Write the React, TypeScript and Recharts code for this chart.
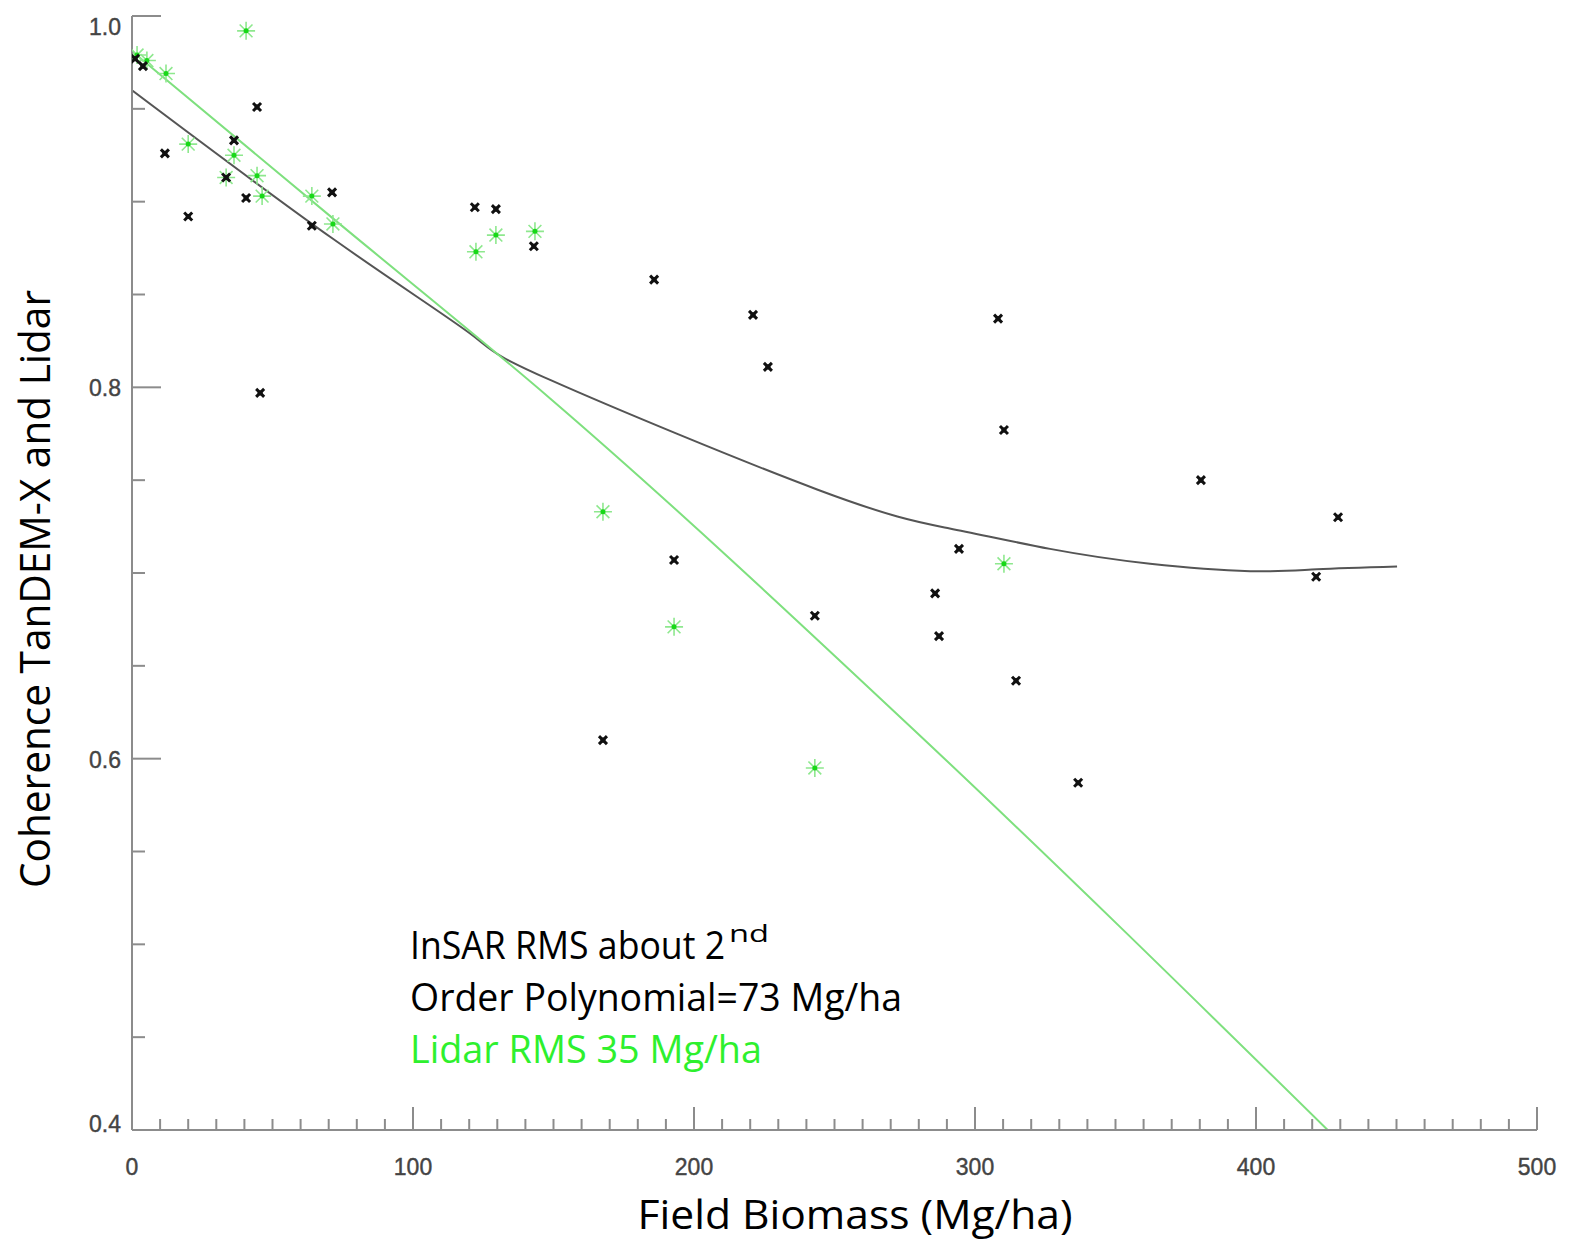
import React from "react";
import { ComposedChart, Line, Scatter, XAxis, YAxis } from "recharts";

// InSAR coherence (black crosses)
const insarBiomass = [1.1, 3.9, 11.7, 20.0, 33.5, 36.3, 40.6, 44.5, 45.6, 64.0, 71.2, 122.0, 129.5, 143.0, 167.6, 185.8, 192.9, 221.0, 226.3, 243.0, 285.8, 287.2, 294.3, 308.2, 310.3, 314.6, 336.7, 380.4, 421.4, 429.2];
const insarCoherence = [0.977, 0.973, 0.926, 0.892, 0.913, 0.933, 0.902, 0.951, 0.797, 0.887, 0.905, 0.897, 0.896, 0.876, 0.61, 0.858, 0.707, 0.839, 0.811, 0.677, 0.689, 0.666, 0.713, 0.837, 0.777, 0.642, 0.587, 0.75, 0.698, 0.73];

// Lidar (green asterisks)
const lidarBiomass = [1.8, 5.3, 12.1, 20.0, 33.5, 36.3, 40.6, 44.5, 46.3, 64.0, 71.5, 122.4, 129.5, 143.4, 167.6, 192.9, 243.0, 310.3];
const lidarValue = [0.979, 0.976, 0.969, 0.931, 0.913, 0.925, 0.992, 0.914, 0.903, 0.903, 0.888, 0.873, 0.882, 0.884, 0.733, 0.671, 0.595, 0.705];

// fitted curves
const insarFitX = [0, 71.5, 120.3, 148.8, 243.8, 291, 326.7, 362.3, 397.9, 421.7, 450.2];
const insarFitY = [0.96, 0.88, 0.829, 0.804, 0.745, 0.724, 0.713, 0.705, 0.701, 0.702, 0.7035];
const lidarFitX = [0, 71.5, 148.8, 277.9, 425.5];
const lidarFitY = [0.981, 0.891, 0.794, 0.616, 0.4];

const xTicks = [0, 10, 20, 30, 40, 50, 60, 70, 80, 90, 100, 110, 120, 130, 140, 150, 160, 170, 180, 190, 200, 210, 220, 230, 240, 250, 260, 270, 280, 290, 300, 310, 320, 330, 340, 350, 360, 370, 380, 390, 400, 410, 420, 430, 440, 450, 460, 470, 480, 490, 500];
const xLabels = [0, 100, 200, 300, 400, 500];
const yTicks = [0.4, 0.45, 0.5, 0.55, 0.6, 0.65, 0.7, 0.75, 0.8, 0.85, 0.9, 0.95, 1.0];
const yLabels = [0.4, 0.6, 0.8, 1.0];

const zip = (xs: number[], ys: number[]) => xs.map((x, i) => ({ x, y: ys[i] }));
const insarPoints = zip(insarBiomass, insarCoherence);
const lidarPoints = zip(lidarBiomass, lidarValue);
const insarFit = zip(insarFitX, insarFitY);
const lidarFit = zip(lidarFitX, lidarFitY);

const AXIS = "#8c8c8c";
const LABEL = "#444";
const tickFont = { fontFamily: "Liberation Sans, Arial, sans-serif", fontSize: 23, fill: LABEL, stroke: LABEL, strokeWidth: 0.4 };

function BottomTick({ x, y, payload }: any) {
  const major = xLabels.includes(payload.value);
  return (
    <g>
      <line x1={x} y1={y} x2={x} y2={y - (major ? 23 : 11)} stroke={AXIS} strokeWidth={2} />
      {major && (
        <text x={x} y={y + 45} textAnchor="middle" {...tickFont}>
          {payload.value}
        </text>
      )}
    </g>
  );
}

function TopTick({ x, y, payload }: any) {
  const major = xLabels.includes(payload.value);
  return <line x1={x} y1={y} x2={x} y2={y + (major ? 23 : 11)} stroke={AXIS} strokeWidth={2} />;
}

function LeftTick({ x, y, payload }: any) {
  const major = yLabels.includes(payload.value);
  const nudge = payload.value === 1.0 ? 19 : payload.value === 0.4 ? 2 : 9;
  return (
    <g>
      <line x1={x} y1={y} x2={x + (major ? 29 : 13)} y2={y} stroke={AXIS} strokeWidth={2} />
      {major && (
        <text x={x - 11} y={y + nudge} textAnchor="end" {...tickFont}>
          {payload.value.toFixed(1)}
        </text>
      )}
    </g>
  );
}

function RightTick({ x, y, payload }: any) {
  const major = yLabels.includes(payload.value);
  return <line x1={x} y1={y} x2={x - (major ? 29 : 13)} y2={y} stroke={AXIS} strokeWidth={2} />;
}

function Cross({ cx, cy }: any) {
  return (
    <g>
      <path
        d={`M${cx - 4},${cy - 4}L${cx + 4},${cy + 4}M${cx + 4},${cy - 4}L${cx - 4},${cy + 4}`}
        stroke="#111"
        strokeWidth={3}
      />
      <rect x={cx - 2.5} y={cy - 2.5} width={5} height={5} fill="#111" />
    </g>
  );
}

function Star({ cx, cy }: any) {
  const r = 9;
  const d = 6.4;
  return (
    <g>
      <path
        d={`M${cx - r},${cy}H${cx + r}M${cx},${cy - r}V${cy + r}M${cx - d},${cy - d}L${cx + d},${cy + d}M${cx + d},${cy - d}L${cx - d},${cy + d}`}
        stroke="#8ee88e"
        strokeWidth={1.6}
      />
      <circle cx={cx} cy={cy} r={2.5} fill="#18d818" />
    </g>
  );
}

const titleFont = "Open Sans, Noto Sans, sans-serif";

export default function App() {
  return (
    <div style={{ position: "relative", width: 1569, height: 1243, background: "#fff" }}>
      <style>{"body{margin:0}"}</style>
      <ComposedChart width={1569} height={1243} margin={{ top: 16, right: 32, bottom: 0, left: 0 }}>
        <XAxis
          dataKey="x"
          type="number"
          domain={[0, 500]}
          ticks={xTicks}
          interval={0}
          height={113}
          tickSize={0}
          tickMargin={0}
          tickLine={false}
          axisLine={{ stroke: AXIS, strokeWidth: 2 }}
          tick={BottomTick}
          allowDataOverflow
        />
        <XAxis
          xAxisId="top"
          orientation="top"
          dataKey="x"
          type="number"
          domain={[0, 500]}
          ticks={xTicks}
          interval={0}
          height={0}
          tickSize={0}
          tickMargin={0}
          tickLine={false}
          axisLine={{ stroke: AXIS, strokeWidth: 2 }}
          tick={TopTick}
          allowDataOverflow
        />
        <YAxis
          dataKey="y"
          type="number"
          domain={[0.4, 1.0]}
          ticks={yTicks}
          interval={0}
          width={132}
          tickSize={0}
          tickMargin={0}
          tickLine={false}
          axisLine={{ stroke: AXIS, strokeWidth: 2 }}
          tick={LeftTick}
          allowDataOverflow
        />
        <YAxis
          yAxisId="right"
          orientation="right"
          dataKey="y"
          type="number"
          domain={[0.4, 1.0]}
          ticks={yTicks}
          interval={0}
          width={0}
          tickSize={0}
          tickMargin={0}
          tickLine={false}
          axisLine={{ stroke: AXIS, strokeWidth: 2 }}
          tick={RightTick}
          allowDataOverflow
        />
        <Line data={insarFit} dataKey="y" type="natural" stroke="#555" strokeWidth={2} dot={false} isAnimationActive={false} />
        <Line data={lidarFit} dataKey="y" type="monotone" stroke="#7ee07e" strokeWidth={2} dot={false} isAnimationActive={false} />
        <Scatter data={lidarPoints} dataKey="y" shape={Star} isAnimationActive={false} />
        <Scatter data={insarPoints} dataKey="y" shape={Cross} isAnimationActive={false} />
      </ComposedChart>

      <svg width={1569} height={1243} style={{ position: "absolute", left: 0, top: 0, pointerEvents: "none" }}>
        <text
          transform="translate(50,589) rotate(-90)"
          textAnchor="middle"
          fontFamily={titleFont}
          fontSize={42}
          textLength={598}
          lengthAdjust="spacingAndGlyphs"
          fill="#000"
        >
          Coherence TanDEM-X and Lidar
        </text>
        <text
          x={855}
          y={1229}
          textAnchor="middle"
          fontFamily={titleFont}
          fontSize={40}
          textLength={435}
          lengthAdjust="spacingAndGlyphs"
          fill="#000"
        >
          Field Biomass (Mg/ha)
        </text>
        <text x={410} y={959} fontFamily={titleFont} fontSize={38} fill="#000">
          <tspan textLength={315} lengthAdjust="spacingAndGlyphs">InSAR RMS about 2</tspan>
          <tspan dx={4} dy={-17} fontSize={23} textLength={40} lengthAdjust="spacingAndGlyphs">nd</tspan>
        </text>
        <text x={410} y={1011} fontFamily={titleFont} fontSize={38} textLength={492} lengthAdjust="spacingAndGlyphs" fill="#000">
          Order Polynomial=73 Mg/ha
        </text>
        <text x={410} y={1063} fontFamily={titleFont} fontSize={38} textLength={352} lengthAdjust="spacingAndGlyphs" fill="#2ef02e">
          Lidar RMS 35 Mg/ha
        </text>
      </svg>
    </div>
  );
}
